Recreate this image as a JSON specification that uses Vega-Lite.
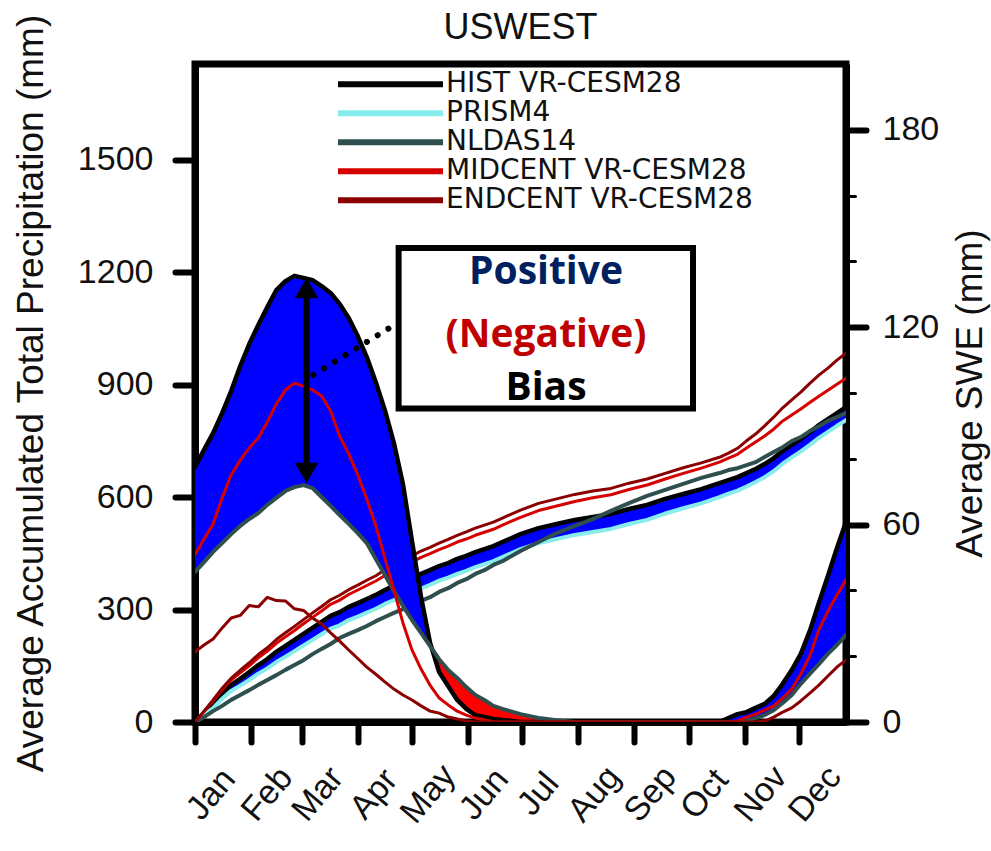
{
  "$schema": "https://vega.github.io/schema/vega-lite/v6.json",
  "width": 651,
  "height": 658,
  "autosize": "none",
  "padding": {"left": 195, "top": 64, "right": 145, "bottom": 129},
  "background": "white",
  "title": {"text": "USWEST", "frame": "group", "anchor": "middle", "offset": 0, "dy": 34, "fontSize": 36, "font": "Liberation Sans", "fontWeight": "normal", "color": "#111111"},
  "config": {
    "view": {"stroke": "black", "strokeWidth": 7},
    "axis": {"labelFont": "Liberation Sans", "titleFont": "Liberation Sans", "labelColor": "#111111", "titleColor": "#111111", "tickColor": "black", "tickWidth": 6, "tickCap": "round", "tickSize": 20, "domain": true, "domainColor": "black", "domainWidth": 7, "grid": false, "zindex": 1, "titleFontWeight": "normal", "labelFlush": false, "labelOverlap": false, "labelBound": false}
  },
  "datasets": {
    "precip": [
      {"day": 0, "HIST VR-CESM28": 0, "PRISM4": 0, "NLDAS14": 0, "MIDCENT VR-CESM28": 0, "ENDCENT VR-CESM28": 0},
      {"day": 5, "HIST VR-CESM28": 24, "PRISM4": 19, "NLDAS14": 13, "MIDCENT VR-CESM28": 28, "ENDCENT VR-CESM28": 29},
      {"day": 10, "HIST VR-CESM28": 48, "PRISM4": 37, "NLDAS14": 29, "MIDCENT VR-CESM28": 56, "ENDCENT VR-CESM28": 59},
      {"day": 15, "HIST VR-CESM28": 75, "PRISM4": 62, "NLDAS14": 43, "MIDCENT VR-CESM28": 86, "ENDCENT VR-CESM28": 90},
      {"day": 20, "HIST VR-CESM28": 99, "PRISM4": 83, "NLDAS14": 59, "MIDCENT VR-CESM28": 112, "ENDCENT VR-CESM28": 117},
      {"day": 25, "HIST VR-CESM28": 115, "PRISM4": 97, "NLDAS14": 72, "MIDCENT VR-CESM28": 131, "ENDCENT VR-CESM28": 138},
      {"day": 30, "HIST VR-CESM28": 133, "PRISM4": 112, "NLDAS14": 85, "MIDCENT VR-CESM28": 150, "ENDCENT VR-CESM28": 158},
      {"day": 35, "HIST VR-CESM28": 152, "PRISM4": 129, "NLDAS14": 99, "MIDCENT VR-CESM28": 171, "ENDCENT VR-CESM28": 180},
      {"day": 40, "HIST VR-CESM28": 168, "PRISM4": 143, "NLDAS14": 112, "MIDCENT VR-CESM28": 189, "ENDCENT VR-CESM28": 198},
      {"day": 45, "HIST VR-CESM28": 187, "PRISM4": 160, "NLDAS14": 125, "MIDCENT VR-CESM28": 210, "ENDCENT VR-CESM28": 220},
      {"day": 50, "HIST VR-CESM28": 203, "PRISM4": 174, "NLDAS14": 139, "MIDCENT VR-CESM28": 227, "ENDCENT VR-CESM28": 238},
      {"day": 55, "HIST VR-CESM28": 219, "PRISM4": 189, "NLDAS14": 152, "MIDCENT VR-CESM28": 244, "ENDCENT VR-CESM28": 255},
      {"day": 60, "HIST VR-CESM28": 235, "PRISM4": 204, "NLDAS14": 165, "MIDCENT VR-CESM28": 262, "ENDCENT VR-CESM28": 273},
      {"day": 65, "HIST VR-CESM28": 251, "PRISM4": 219, "NLDAS14": 181, "MIDCENT VR-CESM28": 279, "ENDCENT VR-CESM28": 291},
      {"day": 70, "HIST VR-CESM28": 267, "PRISM4": 234, "NLDAS14": 195, "MIDCENT VR-CESM28": 296, "ENDCENT VR-CESM28": 308},
      {"day": 75, "HIST VR-CESM28": 283, "PRISM4": 249, "NLDAS14": 208, "MIDCENT VR-CESM28": 314, "ENDCENT VR-CESM28": 326},
      {"day": 80, "HIST VR-CESM28": 293, "PRISM4": 258, "NLDAS14": 224, "MIDCENT VR-CESM28": 325, "ENDCENT VR-CESM28": 338},
      {"day": 85, "HIST VR-CESM28": 307, "PRISM4": 272, "NLDAS14": 235, "MIDCENT VR-CESM28": 340, "ENDCENT VR-CESM28": 353},
      {"day": 90, "HIST VR-CESM28": 317, "PRISM4": 281, "NLDAS14": 245, "MIDCENT VR-CESM28": 352, "ENDCENT VR-CESM28": 365},
      {"day": 95, "HIST VR-CESM28": 328, "PRISM4": 292, "NLDAS14": 256, "MIDCENT VR-CESM28": 364, "ENDCENT VR-CESM28": 378},
      {"day": 100, "HIST VR-CESM28": 339, "PRISM4": 302, "NLDAS14": 269, "MIDCENT VR-CESM28": 376, "ENDCENT VR-CESM28": 390},
      {"day": 105, "HIST VR-CESM28": 352, "PRISM4": 315, "NLDAS14": 280, "MIDCENT VR-CESM28": 391, "ENDCENT VR-CESM28": 406},
      {"day": 110, "HIST VR-CESM28": 363, "PRISM4": 325, "NLDAS14": 291, "MIDCENT VR-CESM28": 403, "ENDCENT VR-CESM28": 418},
      {"day": 115, "HIST VR-CESM28": 373, "PRISM4": 335, "NLDAS14": 301, "MIDCENT VR-CESM28": 414, "ENDCENT VR-CESM28": 430},
      {"day": 120, "HIST VR-CESM28": 384, "PRISM4": 346, "NLDAS14": 312, "MIDCENT VR-CESM28": 427, "ENDCENT VR-CESM28": 443},
      {"day": 125, "HIST VR-CESM28": 395, "PRISM4": 356, "NLDAS14": 323, "MIDCENT VR-CESM28": 439, "ENDCENT VR-CESM28": 456},
      {"day": 130, "HIST VR-CESM28": 405, "PRISM4": 366, "NLDAS14": 333, "MIDCENT VR-CESM28": 449, "ENDCENT VR-CESM28": 466},
      {"day": 135, "HIST VR-CESM28": 416, "PRISM4": 377, "NLDAS14": 347, "MIDCENT VR-CESM28": 460, "ENDCENT VR-CESM28": 477},
      {"day": 140, "HIST VR-CESM28": 424, "PRISM4": 385, "NLDAS14": 357, "MIDCENT VR-CESM28": 469, "ENDCENT VR-CESM28": 487},
      {"day": 145, "HIST VR-CESM28": 435, "PRISM4": 395, "NLDAS14": 371, "MIDCENT VR-CESM28": 480, "ENDCENT VR-CESM28": 498},
      {"day": 150, "HIST VR-CESM28": 443, "PRISM4": 403, "NLDAS14": 381, "MIDCENT VR-CESM28": 488, "ENDCENT VR-CESM28": 507},
      {"day": 155, "HIST VR-CESM28": 453, "PRISM4": 413, "NLDAS14": 395, "MIDCENT VR-CESM28": 498, "ENDCENT VR-CESM28": 517},
      {"day": 160, "HIST VR-CESM28": 461, "PRISM4": 421, "NLDAS14": 405, "MIDCENT VR-CESM28": 506, "ENDCENT VR-CESM28": 525},
      {"day": 165, "HIST VR-CESM28": 469, "PRISM4": 429, "NLDAS14": 419, "MIDCENT VR-CESM28": 514, "ENDCENT VR-CESM28": 533},
      {"day": 170, "HIST VR-CESM28": 480, "PRISM4": 440, "NLDAS14": 429, "MIDCENT VR-CESM28": 525, "ENDCENT VR-CESM28": 544},
      {"day": 180, "HIST VR-CESM28": 501, "PRISM4": 461, "NLDAS14": 456, "MIDCENT VR-CESM28": 546, "ENDCENT VR-CESM28": 565},
      {"day": 190, "HIST VR-CESM28": 517, "PRISM4": 477, "NLDAS14": 480, "MIDCENT VR-CESM28": 564, "ENDCENT VR-CESM28": 583},
      {"day": 200, "HIST VR-CESM28": 528, "PRISM4": 488, "NLDAS14": 504, "MIDCENT VR-CESM28": 576, "ENDCENT VR-CESM28": 595},
      {"day": 210, "HIST VR-CESM28": 539, "PRISM4": 499, "NLDAS14": 523, "MIDCENT VR-CESM28": 588, "ENDCENT VR-CESM28": 607},
      {"day": 220, "HIST VR-CESM28": 547, "PRISM4": 507, "NLDAS14": 541, "MIDCENT VR-CESM28": 598, "ENDCENT VR-CESM28": 616},
      {"day": 230, "HIST VR-CESM28": 555, "PRISM4": 515, "NLDAS14": 563, "MIDCENT VR-CESM28": 606, "ENDCENT VR-CESM28": 623},
      {"day": 240, "HIST VR-CESM28": 568, "PRISM4": 528, "NLDAS14": 584, "MIDCENT VR-CESM28": 620, "ENDCENT VR-CESM28": 637},
      {"day": 250, "HIST VR-CESM28": 579, "PRISM4": 539, "NLDAS14": 603, "MIDCENT VR-CESM28": 632, "ENDCENT VR-CESM28": 648},
      {"day": 260, "HIST VR-CESM28": 595, "PRISM4": 556, "NLDAS14": 619, "MIDCENT VR-CESM28": 648, "ENDCENT VR-CESM28": 663},
      {"day": 270, "HIST VR-CESM28": 608, "PRISM4": 570, "NLDAS14": 635, "MIDCENT VR-CESM28": 663, "ENDCENT VR-CESM28": 678},
      {"day": 280, "HIST VR-CESM28": 621, "PRISM4": 583, "NLDAS14": 651, "MIDCENT VR-CESM28": 677, "ENDCENT VR-CESM28": 691},
      {"day": 290, "HIST VR-CESM28": 637, "PRISM4": 600, "NLDAS14": 664, "MIDCENT VR-CESM28": 693, "ENDCENT VR-CESM28": 706},
      {"day": 295, "HIST VR-CESM28": 645, "PRISM4": 609, "NLDAS14": 672, "MIDCENT VR-CESM28": 704, "ENDCENT VR-CESM28": 717},
      {"day": 300, "HIST VR-CESM28": 653, "PRISM4": 617, "NLDAS14": 677, "MIDCENT VR-CESM28": 714, "ENDCENT VR-CESM28": 730},
      {"day": 305, "HIST VR-CESM28": 664, "PRISM4": 628, "NLDAS14": 685, "MIDCENT VR-CESM28": 731, "ENDCENT VR-CESM28": 750},
      {"day": 310, "HIST VR-CESM28": 675, "PRISM4": 640, "NLDAS14": 693, "MIDCENT VR-CESM28": 747, "ENDCENT VR-CESM28": 768},
      {"day": 315, "HIST VR-CESM28": 688, "PRISM4": 653, "NLDAS14": 707, "MIDCENT VR-CESM28": 763, "ENDCENT VR-CESM28": 790},
      {"day": 320, "HIST VR-CESM28": 704, "PRISM4": 669, "NLDAS14": 720, "MIDCENT VR-CESM28": 781, "ENDCENT VR-CESM28": 813},
      {"day": 325, "HIST VR-CESM28": 723, "PRISM4": 689, "NLDAS14": 733, "MIDCENT VR-CESM28": 803, "ENDCENT VR-CESM28": 838},
      {"day": 330, "HIST VR-CESM28": 739, "PRISM4": 706, "NLDAS14": 749, "MIDCENT VR-CESM28": 819, "ENDCENT VR-CESM28": 859},
      {"day": 335, "HIST VR-CESM28": 755, "PRISM4": 722, "NLDAS14": 760, "MIDCENT VR-CESM28": 835, "ENDCENT VR-CESM28": 880},
      {"day": 340, "HIST VR-CESM28": 773, "PRISM4": 739, "NLDAS14": 776, "MIDCENT VR-CESM28": 852, "ENDCENT VR-CESM28": 903},
      {"day": 345, "HIST VR-CESM28": 792, "PRISM4": 758, "NLDAS14": 789, "MIDCENT VR-CESM28": 869, "ENDCENT VR-CESM28": 925},
      {"day": 350, "HIST VR-CESM28": 808, "PRISM4": 774, "NLDAS14": 803, "MIDCENT VR-CESM28": 885, "ENDCENT VR-CESM28": 944},
      {"day": 355, "HIST VR-CESM28": 824, "PRISM4": 790, "NLDAS14": 813, "MIDCENT VR-CESM28": 901, "ENDCENT VR-CESM28": 965},
      {"day": 360, "HIST VR-CESM28": 840, "PRISM4": 805, "NLDAS14": 824, "MIDCENT VR-CESM28": 917, "ENDCENT VR-CESM28": 984}
    ],
    "swe": [
      {"day": 0, "HIST VR-CESM28": 77.5, "NLDAS14": 45.6, "MIDCENT VR-CESM28": 50.8, "ENDCENT VR-CESM28": 21.3},
      {"day": 5, "HIST VR-CESM28": 82.7, "NLDAS14": 48.6, "MIDCENT VR-CESM28": 55.6, "ENDCENT VR-CESM28": 23.4},
      {"day": 10, "HIST VR-CESM28": 87.8, "NLDAS14": 51.7, "MIDCENT VR-CESM28": 60.2, "ENDCENT VR-CESM28": 25.2},
      {"day": 15, "HIST VR-CESM28": 93.9, "NLDAS14": 54.4, "MIDCENT VR-CESM28": 68.1, "ENDCENT VR-CESM28": 28.6},
      {"day": 20, "HIST VR-CESM28": 100.6, "NLDAS14": 57.1, "MIDCENT VR-CESM28": 75.1, "ENDCENT VR-CESM28": 31.6},
      {"day": 25, "HIST VR-CESM28": 108.2, "NLDAS14": 59.6, "MIDCENT VR-CESM28": 79.6, "ENDCENT VR-CESM28": 32.4},
      {"day": 30, "HIST VR-CESM28": 114.9, "NLDAS14": 61.7, "MIDCENT VR-CESM28": 83.3, "ENDCENT VR-CESM28": 35.4},
      {"day": 35, "HIST VR-CESM28": 120.7, "NLDAS14": 63.5, "MIDCENT VR-CESM28": 86.3, "ENDCENT VR-CESM28": 35.0},
      {"day": 40, "HIST VR-CESM28": 126.1, "NLDAS14": 66.0, "MIDCENT VR-CESM28": 91.2, "ENDCENT VR-CESM28": 37.9},
      {"day": 45, "HIST VR-CESM28": 131.3, "NLDAS14": 68.1, "MIDCENT VR-CESM28": 96.7, "ENDCENT VR-CESM28": 36.9},
      {"day": 50, "HIST VR-CESM28": 134.0, "NLDAS14": 70.2, "MIDCENT VR-CESM28": 100.9, "ENDCENT VR-CESM28": 36.8},
      {"day": 55, "HIST VR-CESM28": 135.6, "NLDAS14": 71.4, "MIDCENT VR-CESM28": 103.0, "ENDCENT VR-CESM28": 34.4},
      {"day": 60, "HIST VR-CESM28": 135.0, "NLDAS14": 72.0, "MIDCENT VR-CESM28": 102.1, "ENDCENT VR-CESM28": 33.9},
      {"day": 65, "HIST VR-CESM28": 134.3, "NLDAS14": 71.1, "MIDCENT VR-CESM28": 100.9, "ENDCENT VR-CESM28": 31.6},
      {"day": 70, "HIST VR-CESM28": 132.5, "NLDAS14": 68.4, "MIDCENT VR-CESM28": 99.1, "ENDCENT VR-CESM28": 29.8},
      {"day": 75, "HIST VR-CESM28": 130.4, "NLDAS14": 65.7, "MIDCENT VR-CESM28": 94.5, "ENDCENT VR-CESM28": 27.1},
      {"day": 80, "HIST VR-CESM28": 127.1, "NLDAS14": 62.9, "MIDCENT VR-CESM28": 86.9, "ENDCENT VR-CESM28": 24.6},
      {"day": 85, "HIST VR-CESM28": 122.8, "NLDAS14": 60.2, "MIDCENT VR-CESM28": 81.5, "ENDCENT VR-CESM28": 21.9},
      {"day": 90, "HIST VR-CESM28": 117.3, "NLDAS14": 57.4, "MIDCENT VR-CESM28": 75.1, "ENDCENT VR-CESM28": 19.3},
      {"day": 95, "HIST VR-CESM28": 110.9, "NLDAS14": 54.4, "MIDCENT VR-CESM28": 67.8, "ENDCENT VR-CESM28": 16.7},
      {"day": 100, "HIST VR-CESM28": 103.3, "NLDAS14": 49.5, "MIDCENT VR-CESM28": 59.6, "ENDCENT VR-CESM28": 14.5},
      {"day": 105, "HIST VR-CESM28": 94.8, "NLDAS14": 44.7, "MIDCENT VR-CESM28": 49.8, "ENDCENT VR-CESM28": 12.2},
      {"day": 110, "HIST VR-CESM28": 84.8, "NLDAS14": 39.8, "MIDCENT VR-CESM28": 40.1, "ENDCENT VR-CESM28": 10.0},
      {"day": 115, "HIST VR-CESM28": 72.3, "NLDAS14": 35.3, "MIDCENT VR-CESM28": 30.1, "ENDCENT VR-CESM28": 8.2},
      {"day": 120, "HIST VR-CESM28": 55.0, "NLDAS14": 31.0, "MIDCENT VR-CESM28": 21.9, "ENDCENT VR-CESM28": 6.7},
      {"day": 125, "HIST VR-CESM28": 38.0, "NLDAS14": 27.1, "MIDCENT VR-CESM28": 16.1, "ENDCENT VR-CESM28": 4.9},
      {"day": 130, "HIST VR-CESM28": 24.0, "NLDAS14": 23.1, "MIDCENT VR-CESM28": 11.2, "ENDCENT VR-CESM28": 3.3},
      {"day": 131, "HIST VR-CESM28": 22.3, "NLDAS14": 22.3, "MIDCENT VR-CESM28": 10.4, "ENDCENT VR-CESM28": 3.2},
      {"day": 135, "HIST VR-CESM28": 15.2, "NLDAS14": 19.1, "MIDCENT VR-CESM28": 7.3, "ENDCENT VR-CESM28": 2.7},
      {"day": 140, "HIST VR-CESM28": 10.9, "NLDAS14": 15.8, "MIDCENT VR-CESM28": 5.2, "ENDCENT VR-CESM28": 1.5},
      {"day": 145, "HIST VR-CESM28": 6.7, "NLDAS14": 13.4, "MIDCENT VR-CESM28": 3.3, "ENDCENT VR-CESM28": 0.9},
      {"day": 150, "HIST VR-CESM28": 4.0, "NLDAS14": 10.6, "MIDCENT VR-CESM28": 2.1, "ENDCENT VR-CESM28": 0.3},
      {"day": 155, "HIST VR-CESM28": 2.1, "NLDAS14": 8.2, "MIDCENT VR-CESM28": 1.2, "ENDCENT VR-CESM28": 0},
      {"day": 160, "HIST VR-CESM28": 1.5, "NLDAS14": 6.7, "MIDCENT VR-CESM28": 0.6, "ENDCENT VR-CESM28": 0},
      {"day": 165, "HIST VR-CESM28": 0.9, "NLDAS14": 4.9, "MIDCENT VR-CESM28": 0, "ENDCENT VR-CESM28": 0},
      {"day": 170, "HIST VR-CESM28": 0.6, "NLDAS14": 4.0, "MIDCENT VR-CESM28": 0, "ENDCENT VR-CESM28": 0},
      {"day": 180, "HIST VR-CESM28": 0, "NLDAS14": 2.4, "MIDCENT VR-CESM28": 0, "ENDCENT VR-CESM28": 0},
      {"day": 190, "HIST VR-CESM28": 0, "NLDAS14": 1.2, "MIDCENT VR-CESM28": 0, "ENDCENT VR-CESM28": 0},
      {"day": 200, "HIST VR-CESM28": 0, "NLDAS14": 0.5, "MIDCENT VR-CESM28": 0, "ENDCENT VR-CESM28": 0},
      {"day": 210, "HIST VR-CESM28": 0, "NLDAS14": 0, "MIDCENT VR-CESM28": 0, "ENDCENT VR-CESM28": 0},
      {"day": 240, "HIST VR-CESM28": 0, "NLDAS14": 0, "MIDCENT VR-CESM28": 0, "ENDCENT VR-CESM28": 0},
      {"day": 270, "HIST VR-CESM28": 0, "NLDAS14": 0, "MIDCENT VR-CESM28": 0, "ENDCENT VR-CESM28": 0},
      {"day": 290, "HIST VR-CESM28": 0, "NLDAS14": 0, "MIDCENT VR-CESM28": 0, "ENDCENT VR-CESM28": 0},
      {"day": 295, "HIST VR-CESM28": 1.2, "NLDAS14": 0, "MIDCENT VR-CESM28": 0, "ENDCENT VR-CESM28": 0},
      {"day": 300, "HIST VR-CESM28": 2.4, "NLDAS14": 0, "MIDCENT VR-CESM28": 0.3, "ENDCENT VR-CESM28": 0},
      {"day": 305, "HIST VR-CESM28": 3.0, "NLDAS14": 0.3, "MIDCENT VR-CESM28": 1.5, "ENDCENT VR-CESM28": 0},
      {"day": 310, "HIST VR-CESM28": 4.3, "NLDAS14": 1.2, "MIDCENT VR-CESM28": 2.4, "ENDCENT VR-CESM28": 0},
      {"day": 315, "HIST VR-CESM28": 5.5, "NLDAS14": 2.1, "MIDCENT VR-CESM28": 3.6, "ENDCENT VR-CESM28": 0.3},
      {"day": 320, "HIST VR-CESM28": 7.9, "NLDAS14": 3.6, "MIDCENT VR-CESM28": 4.9, "ENDCENT VR-CESM28": 1.5},
      {"day": 325, "HIST VR-CESM28": 11.6, "NLDAS14": 5.8, "MIDCENT VR-CESM28": 7.3, "ENDCENT VR-CESM28": 3.0},
      {"day": 330, "HIST VR-CESM28": 15.8, "NLDAS14": 8.2, "MIDCENT VR-CESM28": 10.0, "ENDCENT VR-CESM28": 4.3},
      {"day": 335, "HIST VR-CESM28": 20.7, "NLDAS14": 11.6, "MIDCENT VR-CESM28": 14.6, "ENDCENT VR-CESM28": 6.4},
      {"day": 340, "HIST VR-CESM28": 27.7, "NLDAS14": 14.6, "MIDCENT VR-CESM28": 20.1, "ENDCENT VR-CESM28": 8.8},
      {"day": 345, "HIST VR-CESM28": 36.2, "NLDAS14": 17.6, "MIDCENT VR-CESM28": 28.0, "ENDCENT VR-CESM28": 11.2},
      {"day": 350, "HIST VR-CESM28": 44.4, "NLDAS14": 20.7, "MIDCENT VR-CESM28": 33.7, "ENDCENT VR-CESM28": 14.0},
      {"day": 355, "HIST VR-CESM28": 52.9, "NLDAS14": 23.4, "MIDCENT VR-CESM28": 38.6, "ENDCENT VR-CESM28": 16.7},
      {"day": 360, "HIST VR-CESM28": 60.8, "NLDAS14": 26.4, "MIDCENT VR-CESM28": 43.2, "ENDCENT VR-CESM28": 18.8}
    ]
  },
  "layer": [
    {
      "data": {"name": "precip"},
      "layer": [
        {
          "mark": {"type": "area", "color": "#0000ff", "clip": true},
          "encoding": {
            "x": {"field": "day", "type": "quantitative", "scale": {"domain": [0, 360], "nice": false, "zero": false},
              "axis": {"orient": "bottom", "title": null, "values": [0, 31, 59, 90, 120, 151, 181, 212, 243, 273, 304, 334],
                "labelExpr": "['Jan','Feb','Mar','Apr','May','Jun','Jul','Aug','Sep','Oct','Nov','Dec'][indexof([0,31,59,90,120,151,181,212,243,273,304,334], datum.value)]",
                "labelAngle": -50, "labelAlign": "center", "labelBaseline": "middle", "labelPadding": 52, "labelOffset": 16, "labelFontSize": 34}},
            "y": {"field": "HIST VR-CESM28", "type": "quantitative", "scale": {"domain": [0, 1755], "nice": false},
              "axis": {"orient": "left", "values": [0, 300, 600, 900, 1200, 1500], "format": "d", "labelFontSize": 34, "labelPadding": 22,
                "title": "Average Accumulated Total Precipitation (mm)", "titleFontSize": 37, "titlePadding": 27}},
            "y2": {"field": "PRISM4"}
          }
        },
        {
          "transform": [{"fold": ["HIST VR-CESM28", "PRISM4", "NLDAS14", "MIDCENT VR-CESM28", "ENDCENT VR-CESM28"], "as": ["series", "value"]}],
          "mark": {"type": "line", "clip": true, "strokeJoin": "round", "strokeCap": "round"},
          "encoding": {
            "x": {"field": "day", "type": "quantitative", "scale": {"domain": [0, 360], "nice": false, "zero": false}},
            "y": {"field": "value", "type": "quantitative", "scale": {"domain": [0, 1755], "nice": false}},
            "color": {"field": "series", "type": "nominal",
              "scale": {"domain": ["HIST VR-CESM28", "PRISM4", "NLDAS14", "MIDCENT VR-CESM28", "ENDCENT VR-CESM28"], "range": ["#000000", "#86ecec", "#2f4f4f", "#d60000", "#8b0000"]},
              "legend": {"orient": "none", "legendX": 140, "legendY": 7, "title": null, "symbolType": "stroke", "symbolSize": 11025, "symbolStrokeWidth": 6,
                "labelFont": "DejaVu Sans", "labelFontSize": 28, "labelColor": "#111111", "labelOffset": 0, "rowPadding": 0, "clipHeight": 26.5, "padding": 0, "direction": "vertical", "labelLimit": 600}},
            "strokeWidth": {"condition": [{"test": "datum.series === 'HIST VR-CESM28'", "value": 4.5}, {"test": "datum.series === 'PRISM4' || datum.series === 'NLDAS14'", "value": 4}], "value": 3}
          }
        }
      ]
    },
    {
      "data": {"name": "swe"},
      "layer": [
        {
          "transform": [{"filter": "datum['HIST VR-CESM28'] >= datum['NLDAS14']"}],
          "mark": {"type": "area", "color": "#0000ff", "clip": true},
          "encoding": {
            "x": {"field": "day", "type": "quantitative", "scale": {"domain": [0, 360], "nice": false, "zero": false}},
            "y": {"field": "HIST VR-CESM28", "type": "quantitative", "scale": {"domain": [0, 200], "nice": false},
              "axis": {"orient": "right", "values": [0, 10, 20, 30, 40, 50, 60, 70, 80, 90, 100, 110, 120, 130, 140, 150, 160, 170, 180, 190],
                "labelExpr": "datum.value % 30 === 0 ? datum.label : ''",
                "tickSize": {"condition": {"test": "datum.value % 30 === 0", "value": 20}, "value": 9},
                "tickWidth": {"condition": {"test": "datum.value % 30 === 0", "value": 6}, "value": 3},
                "labelFontSize": 34, "labelPadding": 16,
                "title": "Average SWE (mm)", "titleFontSize": 37, "titleAngle": 270, "titleBaseline": "top", "titlePadding": 14}},
            "y2": {"field": "NLDAS14"}
          }
        },
        {
          "transform": [{"filter": "datum['HIST VR-CESM28'] <= datum['NLDAS14'] && datum.day >= 131 && datum.day <= 210"}],
          "mark": {"type": "area", "color": "#ff0000", "clip": true},
          "encoding": {
            "x": {"field": "day", "type": "quantitative", "scale": {"domain": [0, 360], "nice": false, "zero": false}},
            "y": {"field": "HIST VR-CESM28", "type": "quantitative", "scale": {"domain": [0, 200], "nice": false}},
            "y2": {"field": "NLDAS14"}
          }
        },
        {
          "transform": [{"fold": ["HIST VR-CESM28", "NLDAS14", "MIDCENT VR-CESM28", "ENDCENT VR-CESM28"], "as": ["series", "value"]}],
          "mark": {"type": "line", "clip": true, "strokeJoin": "round", "strokeCap": "round"},
          "encoding": {
            "x": {"field": "day", "type": "quantitative", "scale": {"domain": [0, 360], "nice": false, "zero": false}},
            "y": {"field": "value", "type": "quantitative", "scale": {"domain": [0, 200], "nice": false}},
            "color": {"field": "series", "type": "nominal",
              "scale": {"domain": ["HIST VR-CESM28", "PRISM4", "NLDAS14", "MIDCENT VR-CESM28", "ENDCENT VR-CESM28"], "range": ["#000000", "#86ecec", "#2f4f4f", "#d60000", "#8b0000"]}},
            "strokeWidth": {"condition": [{"test": "datum.series === 'HIST VR-CESM28'", "value": 4.5}, {"test": "datum.series === 'NLDAS14'", "value": 4}], "value": 3}
          }
        },
        {
          "data": {"values": [{"note": "pointer"}]},
          "mark": {"type": "rule", "color": "black", "strokeWidth": 6, "strokeDash": [0.1, 12.5], "strokeCap": "round"},
          "encoding": {
            "x": {"datum": 65.4, "type": "quantitative", "scale": {"domain": [0, 360], "nice": false, "zero": false}},
            "x2": {"datum": 108.8},
            "y": {"datum": 105.5, "type": "quantitative", "scale": {"domain": [0, 200], "nice": false}},
            "y2": {"datum": 120.2}
          }
        },
        {
          "data": {"values": [{"note": "box"}]},
          "mark": {"type": "rect", "fill": "white", "stroke": "black", "strokeWidth": 6},
          "encoding": {
            "x": {"datum": 112.6, "type": "quantitative", "scale": {"domain": [0, 360], "nice": false, "zero": false}},
            "x2": {"datum": 275.4},
            "y": {"datum": 144.1, "type": "quantitative", "scale": {"domain": [0, 200], "nice": false}},
            "y2": {"datum": 95.3}
          }
        },
        {
          "data": {"values": [{"note": "arrow"}]},
          "mark": {"type": "rule", "color": "black", "strokeWidth": 6},
          "encoding": {
            "x": {"datum": 61.7, "type": "quantitative", "scale": {"domain": [0, 360], "nice": false, "zero": false}},
            "y": {"datum": 132, "type": "quantitative", "scale": {"domain": [0, 200], "nice": false}},
            "y2": {"datum": 75.5}
          }
        },
        {
          "data": {"values": [{"note": "head up"}]},
          "mark": {"type": "point", "shape": "triangle-up", "filled": true, "size": 550, "color": "black", "opacity": 1},
          "encoding": {
            "x": {"datum": 61.7, "type": "quantitative", "scale": {"domain": [0, 360], "nice": false, "zero": false}},
            "y": {"datum": 131.9, "type": "quantitative", "scale": {"domain": [0, 200], "nice": false}}
          }
        },
        {
          "data": {"values": [{"note": "head down"}]},
          "mark": {"type": "point", "shape": "triangle-down", "filled": true, "size": 550, "color": "black", "opacity": 1},
          "encoding": {
            "x": {"datum": 61.7, "type": "quantitative", "scale": {"domain": [0, 360], "nice": false, "zero": false}},
            "y": {"datum": 75.7, "type": "quantitative", "scale": {"domain": [0, 200], "nice": false}}
          }
        },
        {
          "data": {"values": [{"label": "Positive"}]},
          "mark": {"type": "text", "font": "Open Sans", "fontWeight": "bold", "fontSize": 39, "color": "#002060", "align": "center", "baseline": "middle"},
          "encoding": {
            "x": {"datum": 194.1, "type": "quantitative", "scale": {"domain": [0, 360], "nice": false, "zero": false}},
            "y": {"datum": 136.8, "type": "quantitative", "scale": {"domain": [0, 200], "nice": false}},
            "text": {"field": "label"}
          }
        },
        {
          "data": {"values": [{"label": "(Negative)"}]},
          "mark": {"type": "text", "font": "Open Sans", "fontWeight": "bold", "fontSize": 39, "color": "#c00000", "align": "center", "baseline": "middle"},
          "encoding": {
            "x": {"datum": 194.1, "type": "quantitative", "scale": {"domain": [0, 360], "nice": false, "zero": false}},
            "y": {"datum": 117.6, "type": "quantitative", "scale": {"domain": [0, 200], "nice": false}},
            "text": {"field": "label"}
          }
        },
        {
          "data": {"values": [{"label": "Bias"}]},
          "mark": {"type": "text", "font": "Open Sans", "fontWeight": "bold", "fontSize": 39, "color": "#000000", "align": "center", "baseline": "middle"},
          "encoding": {
            "x": {"datum": 194.1, "type": "quantitative", "scale": {"domain": [0, 360], "nice": false, "zero": false}},
            "y": {"datum": 101.5, "type": "quantitative", "scale": {"domain": [0, 200], "nice": false}},
            "text": {"field": "label"}
          }
        }
      ]
    }
  ],
  "resolve": {"scale": {"y": "independent"}}
}
